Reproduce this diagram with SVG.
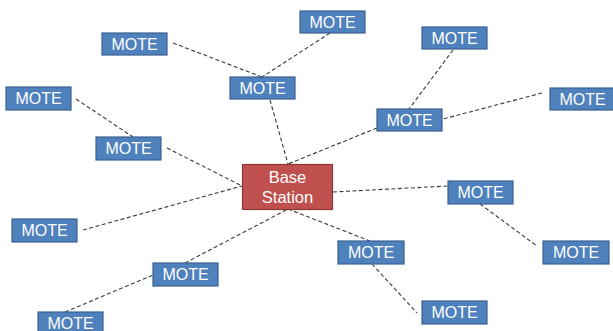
<svg xmlns="http://www.w3.org/2000/svg" width="613" height="331" viewBox="0 0 613 331">
<style>
.mote rect{fill:#4F81BD;stroke:#3A6291;stroke-width:1.2}
.mote text{fill:#fff;font-family:"Liberation Sans",Arial,sans-serif;font-size:16px;text-anchor:middle}
.base rect{fill:#C0504D;stroke:#8C3836;stroke-width:1.2}
.base text{fill:#fff;font-family:"Liberation Sans",Arial,sans-serif;font-size:16.5px;text-anchor:middle}
#connectors line{stroke:#3a3a3a;stroke-width:1.1;stroke-dasharray:4 2.5}
</style>
<rect width="613" height="331" fill="#fff"/>
<g id="connectors">
<line x1="173" y1="43" x2="262" y2="77"/>
<line x1="330" y1="33" x2="262" y2="77"/>
<line x1="270" y1="100" x2="288" y2="164"/>
<line x1="76" y1="99" x2="133" y2="137"/>
<line x1="167" y1="148" x2="242" y2="186"/>
<line x1="453" y1="50" x2="409" y2="109"/>
<line x1="542" y1="93" x2="443" y2="119"/>
<line x1="377" y1="128" x2="288" y2="164"/>
<line x1="333" y1="192" x2="448" y2="186"/>
<line x1="480" y1="204" x2="537" y2="246"/>
<line x1="83" y1="230" x2="242" y2="186"/>
<line x1="185" y1="263" x2="288" y2="209"/>
<line x1="65" y1="312" x2="153" y2="275"/>
<line x1="288" y1="209" x2="370" y2="241"/>
<line x1="372" y1="264" x2="417" y2="313"/>
</g>
<g id="base" class="base"><rect x="242.5" y="164.5" width="90" height="45"/><text x="287.5" y="183">Base</text><text x="287.5" y="203">Station</text></g>
<g id="mote1" class="mote"><rect x="102" y="33" width="65" height="22"/><text x="134.5" y="49.7">MOTE</text></g>
<g id="mote2" class="mote"><rect x="300" y="11" width="65" height="22"/><text x="332.5" y="27.7">MOTE</text></g>
<g id="mote3" class="mote"><rect x="230" y="77" width="65" height="22"/><text x="262.5" y="93.7">MOTE</text></g>
<g id="mote4" class="mote"><rect x="6" y="87" width="65" height="23"/><text x="38.5" y="104.2">MOTE</text></g>
<g id="mote5" class="mote"><rect x="96" y="137" width="65" height="23"/><text x="128.5" y="154.2">MOTE</text></g>
<g id="mote6" class="mote"><rect x="422" y="27" width="65" height="22"/><text x="454.5" y="43.7">MOTE</text></g>
<g id="mote7" class="mote"><rect x="550" y="88" width="65" height="22"/><text x="582.5" y="104.7">MOTE</text></g>
<g id="mote8" class="mote"><rect x="377" y="109" width="65" height="22"/><text x="409.5" y="125.7">MOTE</text></g>
<g id="mote9" class="mote"><rect x="448" y="181" width="65" height="23"/><text x="480.5" y="198.2">MOTE</text></g>
<g id="mote10" class="mote"><rect x="12" y="219" width="65" height="23"/><text x="44.5" y="236.2">MOTE</text></g>
<g id="mote11" class="mote"><rect x="153" y="263" width="65" height="23"/><text x="185.5" y="280.2">MOTE</text></g>
<g id="mote12" class="mote"><rect x="338" y="241" width="66" height="23"/><text x="371" y="258.2">MOTE</text></g>
<g id="mote13" class="mote"><rect x="543" y="241" width="66" height="23"/><text x="576" y="258.2">MOTE</text></g>
<g id="mote14" class="mote"><rect x="38" y="312" width="65" height="22"/><text x="70.5" y="328.7">MOTE</text></g>
<g id="mote15" class="mote"><rect x="422" y="301" width="65" height="23"/><text x="454.5" y="318.2">MOTE</text></g>
</svg>
